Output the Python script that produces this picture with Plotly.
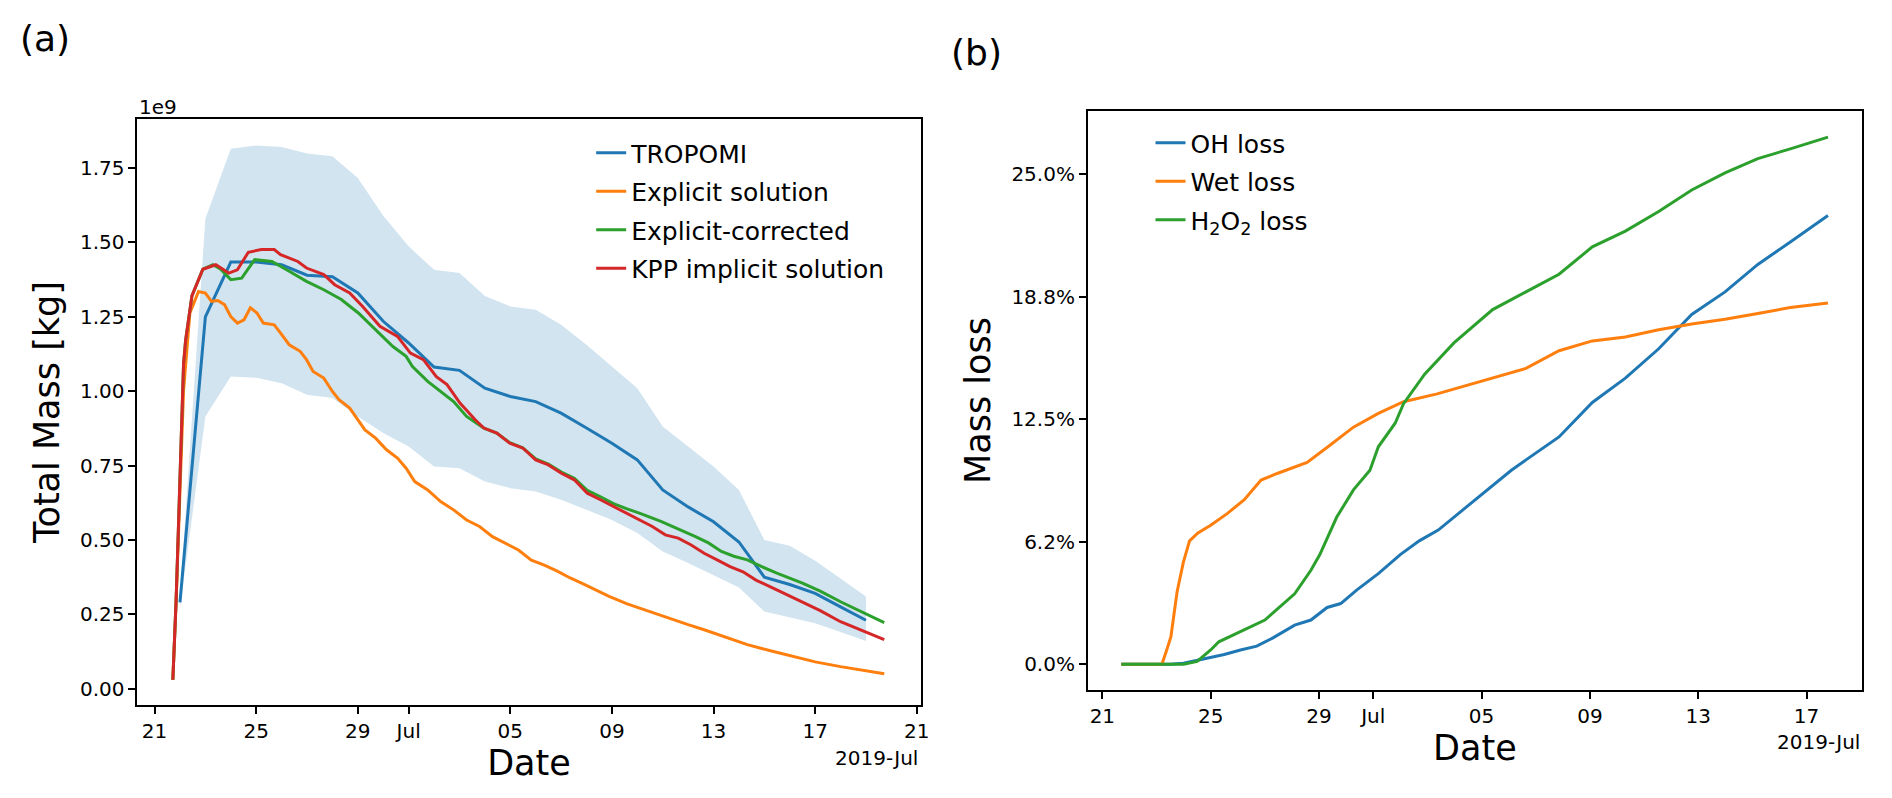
import numpy as np
import pandas as pd
import plotly.graph_objects as go

BASE = pd.Timestamp("2019-06-21")

# ---------------- Panel (a) data: days since 2019-06-21 00:00, mass in 1e9 kg -------------
tropomi_t = list(range(1, 29))
tropomi_v = [0.29, 1.25, 1.434, 1.434, 1.425, 1.39, 1.385, 1.33, 1.235, 1.162, 1.081, 1.07,
             1.01, 0.982, 0.965, 0.926, 0.876, 0.825, 0.769, 0.668, 0.611, 0.561, 0.493,
             0.375, 0.35, 0.32, 0.275, 0.23]
band_upper = [0.31, 1.58, 1.815, 1.826, 1.821, 1.799, 1.79, 1.717, 1.59, 1.487, 1.408, 1.397,
              1.32, 1.285, 1.274, 1.223, 1.156, 1.083, 1.01, 0.881, 0.814, 0.747, 0.668,
              0.5, 0.48, 0.43, 0.37, 0.31]
band_lower = [0.27, 0.915, 1.049, 1.045, 1.027, 0.988, 0.977, 0.915, 0.859, 0.814, 0.747, 0.741,
              0.696, 0.674, 0.663, 0.635, 0.601, 0.567, 0.523, 0.461, 0.422, 0.38, 0.34,
              0.259, 0.24, 0.22, 0.19, 0.16]

kpp_t = [0.72, 0.85, 1.14, 1.22, 1.47, 1.9, 2.41, 2.92, 3.26, 3.69, 4.2, 4.71, 4.96, 5.64, 5.98,
         6.66, 7.09, 7.68, 8.19, 8.87, 9.56, 10.07, 10.58, 11.09, 11.51, 12.02, 12.62, 12.96,
         13.47, 13.98, 14.49, 15.0, 15.5, 16.01, 16.52, 17.03, 17.55, 18.06, 18.57, 19.08,
         19.59, 20.1, 20.61, 21.12, 21.63, 22.14, 22.65, 23.16, 23.67, 24.49, 25.5, 26.2,
         27.0, 28.0, 28.72]
kpp_v = [0.03, 0.30, 1.09, 1.17, 1.32, 1.41, 1.425, 1.397, 1.408, 1.467, 1.476, 1.476, 1.459,
         1.436, 1.414, 1.392, 1.358, 1.33, 1.285, 1.218, 1.184, 1.128, 1.106, 1.049, 1.022,
         0.96, 0.904, 0.876, 0.859, 0.825, 0.809, 0.769, 0.752, 0.724, 0.702, 0.657, 0.635,
         0.612, 0.59, 0.567, 0.545, 0.517, 0.506, 0.483, 0.455, 0.433, 0.41, 0.393, 0.365,
         0.332, 0.29, 0.262, 0.225, 0.19, 0.165]

expl_t = [0.72, 0.85, 1.14, 1.39, 1.73, 2.0, 2.24, 2.49, 2.75, 3.0, 3.26, 3.52, 3.77, 4.03,
          4.28, 4.71, 4.96, 5.3, 5.73, 5.98, 6.24, 6.66, 7.0, 7.26, 7.68, 8.02, 8.28, 8.7,
          9.13, 9.56, 9.9, 10.24, 10.75, 11.26, 11.77, 12.28, 12.79, 13.3, 13.81, 14.32,
          14.83, 15.34, 15.85, 16.36, 16.87, 17.38, 17.89, 18.6, 19.93, 21.0, 21.63, 22.5,
          23.33, 24.2, 25.0, 26.0, 27.0, 28.0, 28.72]
expl_v = [0.03, 0.30, 1.0, 1.263, 1.335, 1.33, 1.302, 1.305, 1.291, 1.251, 1.229, 1.24, 1.28,
          1.263, 1.229, 1.223, 1.195, 1.156, 1.134, 1.106, 1.066, 1.044, 0.999, 0.971, 0.943,
          0.904, 0.87, 0.842, 0.803, 0.775, 0.741, 0.696, 0.668, 0.629, 0.601, 0.567, 0.545,
          0.511, 0.489, 0.466, 0.432, 0.415, 0.395, 0.372, 0.352, 0.33, 0.31, 0.285, 0.245,
          0.215, 0.198, 0.172, 0.148, 0.128, 0.11, 0.09, 0.074, 0.06, 0.05]

corr_t = [0.72, 0.85, 1.14, 1.22, 1.47, 1.9, 2.3, 2.6, 3.0, 3.43, 3.94, 4.62, 5.3, 5.98, 6.66,
          7.35, 8.02, 8.7, 9.38, 9.9, 10.15, 10.75, 11.26, 11.77, 12.28, 12.96, 13.47, 13.98,
          14.49, 15.0, 15.5, 16.01, 16.52, 17.03, 17.55, 18.06, 18.57, 19.08, 19.93, 20.6,
          21.29, 21.8, 22.31, 22.8, 23.33, 23.9, 24.49, 25.5, 26.2, 27.0, 28.0, 28.72]
corr_v = [0.03, 0.30, 1.09, 1.17, 1.32, 1.41, 1.425, 1.41, 1.375, 1.38, 1.442, 1.436, 1.403,
          1.369, 1.341, 1.308, 1.263, 1.207, 1.15, 1.117, 1.083, 1.033, 0.999, 0.965, 0.915,
          0.876, 0.859, 0.827, 0.81, 0.772, 0.755, 0.728, 0.707, 0.667, 0.645, 0.622, 0.605,
          0.59, 0.562, 0.538, 0.511, 0.49, 0.461, 0.445, 0.433, 0.41, 0.388, 0.355, 0.328,
          0.292, 0.252, 0.222]

# ---------------- Panel (b) data: days since 2019-06-21, mass loss in % ----------------
oh_t = [0.7, 2.5, 3.0, 3.5, 4.0, 4.5, 5.1, 5.7, 6.3, 7.1, 7.7, 8.3, 8.8, 9.4, 10.2, 11.0,
        11.7, 12.4, 13.3, 14.2, 15.1, 15.64, 16.86, 18.09, 19.31, 20.54, 21.76, 22.99,
        24.2, 25.4, 26.79]
oh_v = [0.0, 0.0, 0.05, 0.2, 0.35, 0.5, 0.73, 0.93, 1.35, 2.0, 2.26, 2.9, 3.1, 3.8, 4.64, 5.6,
        6.3, 6.85, 7.87, 8.89, 9.9, 10.43, 11.6, 13.36, 14.6, 16.1, 17.85, 19.0, 20.4,
        21.55, 22.9]

wet_t = [0.7, 2.2, 2.37, 2.53, 2.76, 2.99, 3.22, 3.53, 4.0, 4.62, 5.24, 5.86, 6.48, 7.56,
         8.33, 9.27, 10.19, 11.12, 12.36, 13.6, 14.41, 15.64, 16.86, 18.09, 19.31, 20.54,
         21.76, 22.99, 24.2, 25.4, 26.79]
wet_v = [0.0, 0.0, 0.7, 1.4, 3.7, 5.2, 6.3, 6.7, 7.1, 7.7, 8.4, 9.4, 9.75, 10.3, 11.1, 12.1,
         12.8, 13.4, 13.8, 14.3, 14.6, 15.1, 16.0, 16.5, 16.7, 17.07, 17.36, 17.6, 17.9,
         18.2, 18.43]

h2o2_t = [0.7, 3.0, 3.5, 4.0, 4.3, 5.1, 6.0, 7.1, 7.7, 8.03, 8.65, 9.27, 9.88, 10.19, 10.81,
          11.12, 11.9, 12.98, 14.06, 14.41, 15.64, 16.86, 18.09, 19.31, 20.54, 21.76, 22.99,
          24.2, 25.4, 26.79]
h2o2_v = [0.0, 0.0, 0.15, 0.73, 1.15, 1.66, 2.26, 3.6, 4.8, 5.6, 7.5, 8.9, 9.9, 11.1, 12.3,
          13.3, 14.8, 16.4, 17.7, 18.1, 19.0, 19.9, 21.3, 22.1, 23.1, 24.2, 25.07, 25.8,
          26.3, 26.9]

# ---------------- Tick labels ----------------
left_tick_days = [0, 4, 8, 10, 14, 18, 22, 26, 30]
left_tick_text = ["21", "25", "29", "Jul", "05", "09", "13", "17", "21"]
right_tick_days = [0, 4, 8, 10, 14, 18, 22, 26]
right_tick_text = ["21", "25", "29", "Jul", "05", "09", "13", "17"]
mass_ticks = [0.0, 0.25, 0.5, 0.75, 1.0, 1.25, 1.5, 1.75]
loss_ticks = [0.0, 6.25, 12.5, 18.75, 25.0]
loss_tick_text = ["0.0%", "6.2%", "12.5%", "18.8%", "25.0%"]


def to_dates(days):
    return BASE + pd.to_timedelta(np.asarray(days, dtype=float), unit="D")


W, H = 1892, 798
FONT = "DejaVu Sans"
C_BLUE, C_ORANGE, C_GREEN, C_RED = "#1f77b4", "#ff7f0e", "#2ca02c", "#d62728"
LW = 3


def px_x(p):
    return p / W


def px_y(p):
    return 1 - p / H


fig = go.Figure()

# uncertainty band of TROPOMI
fig.add_trace(go.Scatter(x=to_dates(tropomi_t), y=band_upper, mode="lines",
                         line=dict(width=0, color=C_BLUE), showlegend=False,
                         hoverinfo="skip", xaxis="x", yaxis="y"))
fig.add_trace(go.Scatter(x=to_dates(tropomi_t), y=band_lower, mode="lines",
                         line=dict(width=0, color=C_BLUE), fill="tonexty",
                         fillcolor="rgba(31,119,180,0.2)", showlegend=False,
                         hoverinfo="skip", xaxis="x", yaxis="y"))

left_series = [
    ("TROPOMI", tropomi_t, tropomi_v, C_BLUE),
    ("Explicit solution", expl_t, expl_v, C_ORANGE),
    ("Explicit-corrected", corr_t, corr_v, C_GREEN),
    ("KPP implicit solution", kpp_t, kpp_v, C_RED),
]
for i, (name, t, v, c) in enumerate(left_series):
    fig.add_trace(go.Scatter(x=to_dates(t), y=v, mode="lines", name=name,
                             line=dict(color=c, width=LW), legend="legend",
                             legendgroup="a%d" % i, xaxis="x", yaxis="y"))

right_series = [
    ("OH loss", oh_t, oh_v, C_BLUE),
    ("Wet loss", wet_t, wet_v, C_ORANGE),
    ("H<sub>2</sub>O<sub>2</sub> loss", h2o2_t, h2o2_v, C_GREEN),
]
for i, (name, t, v, c) in enumerate(right_series):
    fig.add_trace(go.Scatter(x=to_dates(t), y=np.asarray(v) / 100.0, mode="lines", name=name,
                             line=dict(color=c, width=LW), legend="legend2",
                             legendgroup="b%d" % i, xaxis="x2", yaxis="y2"))

axis_common = dict(showline=True, linecolor="black", linewidth=1.7, mirror=True,
                   ticks="outside", ticklen=7, tickwidth=1.7, tickcolor="black",
                   showgrid=False, zeroline=False,
                   tickfont=dict(family=FONT, size=20, color="black"))

fig.update_layout(
    width=W, height=H, margin=dict(l=0, r=0, t=0, b=0),
    paper_bgcolor="white", plot_bgcolor="white",
    font=dict(family=FONT, color="black"),
    xaxis=dict(domain=[px_x(138), px_x(925)], anchor="y", type="date",
               range=[to_dates([-0.678])[0], to_dates([30.15])[0]],
               tickmode="array", tickvals=to_dates(left_tick_days), ticktext=left_tick_text,
               title=dict(text="Date", font=dict(family=FONT, size=35), standoff=6),
               **axis_common),
    yaxis=dict(domain=[px_y(705), px_y(119)], anchor="x", range=[-0.055, 1.915],
               tickmode="array", tickvals=mass_ticks, tickformat=".2f",
               title=dict(text="Total Mass [kg]", font=dict(family=FONT, size=35), standoff=10),
               **axis_common),
    xaxis2=dict(domain=[px_x(1093), px_x(1871)], anchor="y2", type="date",
                range=[to_dates([-0.537])[0], to_dates([28.05])[0]],
                tickmode="array", tickvals=to_dates(right_tick_days), ticktext=right_tick_text,
                title=dict(text="Date", font=dict(family=FONT, size=35), standoff=6),
                **axis_common),
    yaxis2=dict(domain=[px_y(690), px_y(111)], anchor="x2", range=[-0.0131, 0.2823],
                tickmode="array", tickvals=[v / 100.0 for v in loss_ticks],
                ticktext=loss_tick_text,
                title=dict(text="Mass loss", font=dict(family=FONT, size=35), standoff=10),
                **axis_common),
    legend=dict(x=px_x(594), y=px_y(130), xanchor="left", yanchor="top",
                font=dict(family=FONT, size=25, color="black"), bgcolor="rgba(0,0,0,0)",
                tracegroupgap=3, itemwidth=30),
    legend2=dict(x=px_x(1156), y=px_y(120), xanchor="left", yanchor="top",
                 font=dict(family=FONT, size=25, color="black"), bgcolor="rgba(0,0,0,0)",
                 tracegroupgap=3, itemwidth=30),
    showlegend=True,
)

annotations = [
    dict(text="(a)", x=px_x(45), y=px_y(38), xanchor="center", yanchor="middle",
         font=dict(family=FONT, size=36)),
    dict(text="(b)", x=px_x(981), y=px_y(52), xanchor="center", yanchor="middle",
         font=dict(family=FONT, size=36)),
    dict(text="1e9", x=px_x(138), y=px_y(121), xanchor="left", yanchor="bottom",
         font=dict(family=FONT, size=20)),
    dict(text="2019-Jul", x=px_x(924), y=px_y(758), xanchor="right", yanchor="middle",
         font=dict(family=FONT, size=20)),
    dict(text="2019-Jul", x=px_x(1871), y=px_y(742), xanchor="right", yanchor="middle",
         font=dict(family=FONT, size=20)),
]
for a in annotations:
    a.update(xref="paper", yref="paper", showarrow=False)
fig.update_layout(annotations=annotations)

fig.write_html("out.html", config={"displayModeBar": False},
               post_script="document.body.style.margin='0';")
